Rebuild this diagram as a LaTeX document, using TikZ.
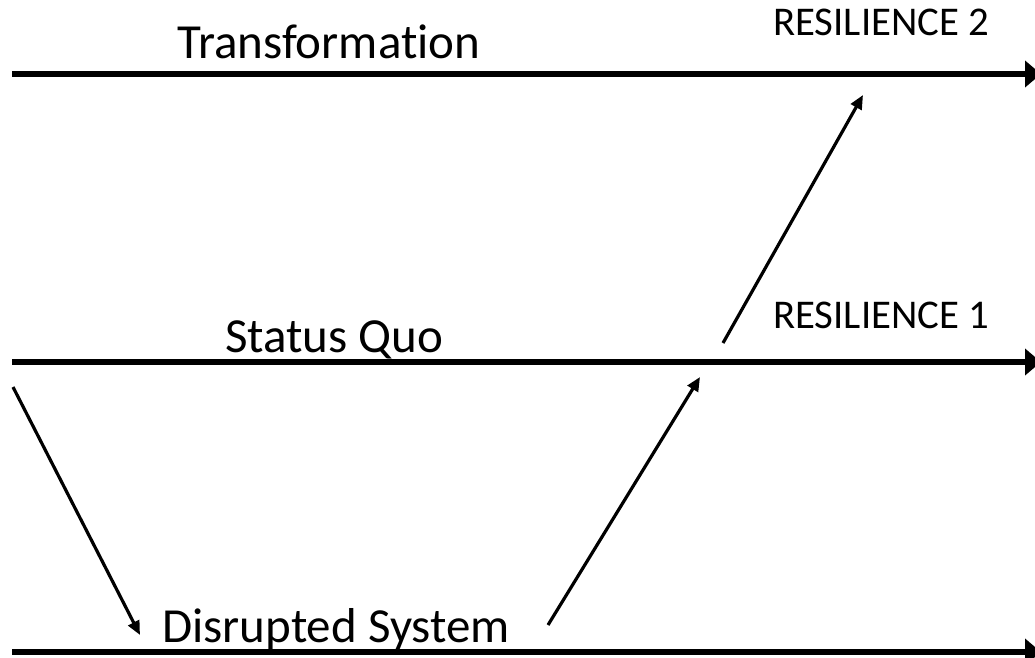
\documentclass[tikz,border=0pt]{standalone}
\usepackage{fontspec}
\setmainfont{Carlito}[Ligatures = NoCommon]
\usetikzlibrary{arrows.meta, positioning}

\begin{document}
\begin{tikzpicture}[x = 1pt, y = -1pt,
  lab/.style = {anchor = base west, inner sep = 0, font = \fontsize{49}{52}\selectfont},
  res/.style = {anchor = base west, inner sep = 0, font = \fontsize{40.8}{44}\selectfont},
  track/.style = {line width = 6.5pt, -{Triangle[length = 16pt, width = 26pt]}},
  jump/.style = {line width = 3.2pt, -{Triangle[length = 14pt, width = 12pt]}}]
\useasboundingbox (0,0) rectangle (1035,657);
\coordinate (tl) at (12,74);
\coordinate (tr) at (1041,74);
\coordinate (ml) at (12,362);
\coordinate (mr) at (1041,362);
\coordinate (bl) at (12,652);
\coordinate (br) at (1041,652);
\node[lab] (trans) at (177,58) {Transformation};
\node[lab] (squo) at (225,352) {Status Quo};
\node[lab] (disr) at (162,642) {Disrupted System};
\node[res] (resb) at (773,35) {RESILIENCE 2};
\node[res] (resa) at (773,328) {RESILIENCE 1};
\coordinate (d1) at (13,387);
\coordinate (d2) at (140,635);
\coordinate (u1) at (548,625);
\coordinate (u2) at (700,377);
\coordinate (v1) at (723,343);
\coordinate (v2) at (863,95);
\draw[track] (tl) -- (tr);
\draw[track] (ml) -- (mr);
\draw[track] (bl) -- (br);
\draw[jump] (d1) -- (d2);
\draw[jump] (u1) -- (u2);
\draw[jump] (v1) -- (v2);
\end{tikzpicture}
\end{document}
